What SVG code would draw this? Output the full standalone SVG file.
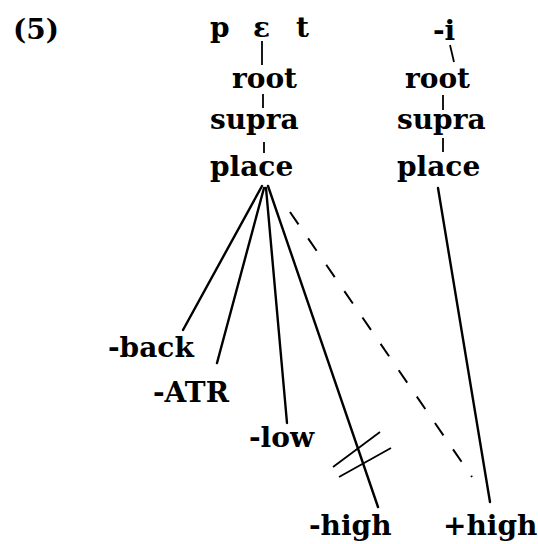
<svg xmlns="http://www.w3.org/2000/svg" width="538" height="544" viewBox="0 0 538 544">
<style>
text{font-family:"DejaVu Serif","Liberation Serif",serif;font-weight:bold;font-size:28px;fill:#000}
.l{stroke:#000;stroke-width:2.4;fill:none;stroke-linecap:round}
.t{stroke:#000;stroke-width:1.8;fill:none}
.d{stroke:#000;stroke-width:2;fill:none;stroke-dasharray:15 17}
.x{stroke:#000;stroke-width:1.8;fill:none}
</style>
<rect width="538" height="544" fill="#fff"/>
<text id="num" x="13" y="39">(5)</text>
<g id="pet"><text y="37"><tspan x="210">p</tspan><tspan x="253">ɛ</tspan><tspan x="296">t</tspan></text></g>
<g id="root1"><text x="232" y="88">root</text></g>
<g id="supra1"><text x="210" y="129">supra</text></g>
<g id="place1"><text x="210" y="176">place</text></g>
<g id="i"><text x="433" y="40">-i</text></g>
<g id="root2"><text x="405" y="88">root</text></g>
<g id="supra2"><text x="397" y="129">supra</text></g>
<g id="place2"><text x="397" y="176">place</text></g>
<g id="back"><text x="108" y="357">-back</text></g>
<g id="atr"><text x="153" y="402">-ATR</text></g>
<g id="low"><text x="249" y="447">-low</text></g>
<g id="mhigh"><text x="309" y="535">-high</text></g>
<g id="phigh"><text x="443" y="535">+high</text></g>
<g id="connectors">
<line class="t" x1="262" y1="41" x2="262" y2="65"/>
<line class="t" x1="263" y1="94" x2="263" y2="108"/>
<line class="t" x1="264" y1="142" x2="264" y2="153"/>
<line class="t" x1="450" y1="45" x2="454" y2="62"/>
<line class="t" x1="443" y1="95" x2="443" y2="110"/>
<line class="t" x1="443" y1="138" x2="443" y2="152"/>
<line class="l" x1="262" y1="186" x2="183" y2="330"/>
<line class="l" x1="264" y1="188" x2="217" y2="363"/>
<line class="l" x1="266" y1="188" x2="287" y2="423"/>
<line class="l" x1="268" y1="186" x2="378" y2="507"/>
<line class="d" x1="290" y1="212" x2="472" y2="477"/>
<line class="l" x1="438" y1="188" x2="490" y2="502"/>
<line class="x" x1="333" y1="467" x2="380" y2="432"/>
<line class="x" x1="339" y1="477" x2="391" y2="448"/>
</g>
</svg>
